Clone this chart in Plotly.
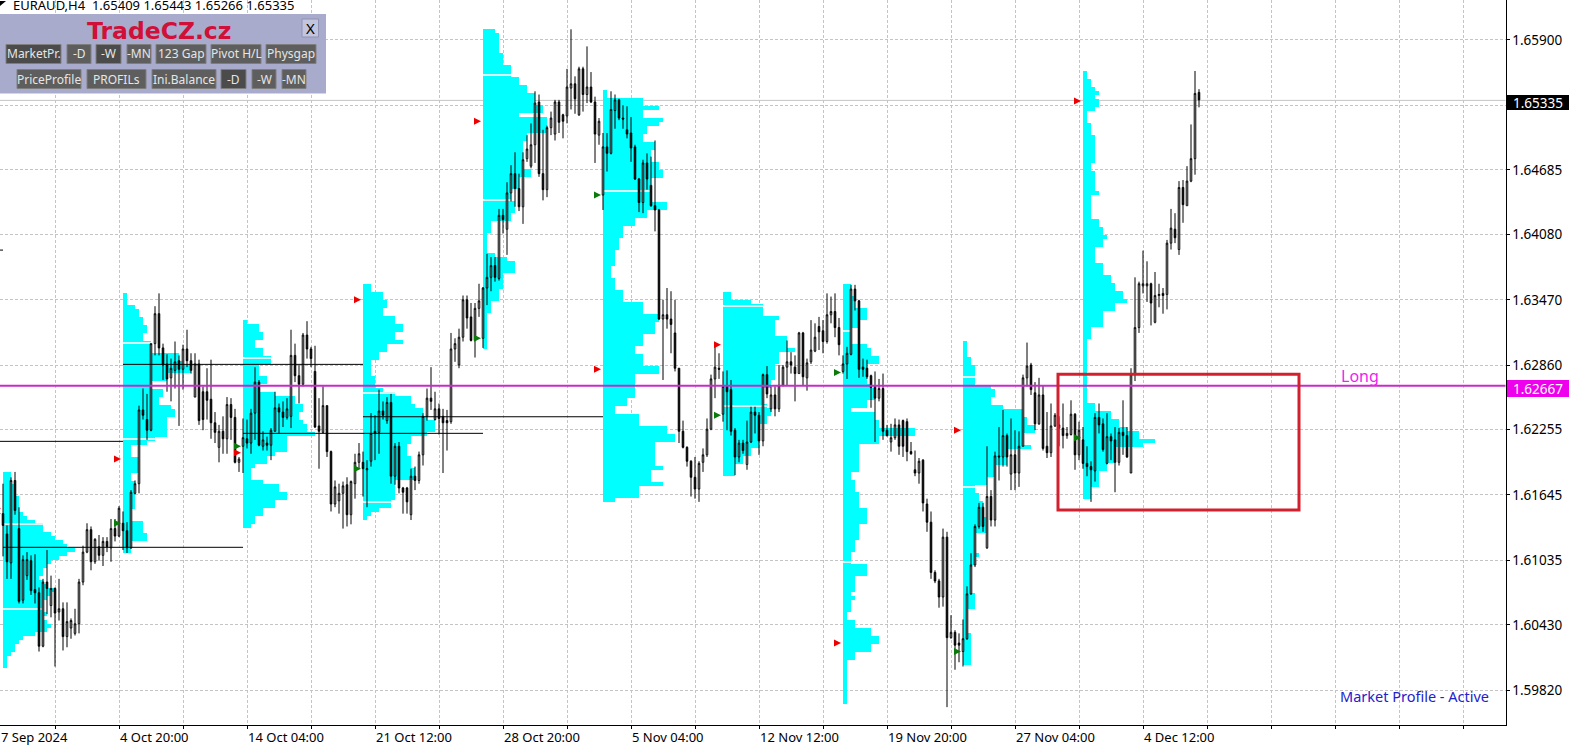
import plotly.graph_objects as go

# ---------- candles: prices in units of 0.0001 ----------
high_e4 = [16175,16136,16181,16186,16153,16108,16111,16108,16109,16078,
16086,16113,16089,16078,16086,16064,16064,16049,16058,16086,
16117,16138,16135,16124,16127,16125,16125,16142,16142,16154,
16149,16139,16169,16178,16248,16264,16259,16306,16341,16353,
16306,16296,16292,16308,16295,16305,16319,16297,16297,16291,
16266,16283,16291,16242,16230,16238,16256,16255,16245,16200,
16236,16235,16245,16284,16272,16224,16219,16227,16261,16250,
16252,16255,16319,16306,16286,16316,16327,16303,16304,16255,
16266,16248,16206,16178,16175,16177,16181,16178,16203,16213,
16205,16197,16241,16239,16263,16252,16256,16259,16213,16214,
16172,16172,16189,16191,16205,16241,16264,16284,16261,16250,
16245,16244,16316,16311,16320,16351,16351,16344,16344,16362,
16359,16390,16387,16387,16432,16432,16457,16473,16485,16465,
16485,16501,16512,16542,16539,16506,16510,16523,16534,16534,
16521,16563,16600,16556,16565,16565,16584,16560,16537,16517,
16503,16503,16542,16539,16535,16529,16528,16518,16492,16461,
16478,16484,16481,16496,16432,16347,16358,16355,16347,16283,
16234,16210,16197,16200,16196,16208,16236,16277,16305,16297,
16280,16281,16272,16227,16216,16216,16234,16247,16247,16242,
16278,16285,16266,16266,16286,16286,16309,16298,16295,16317,
16317,16292,16328,16325,16331,16328,16353,16350,16353,16330,
16295,16303,16361,16361,16347,16292,16291,16277,16280,16273,
16278,16230,16231,16236,16235,16235,16236,16214,16206,16199,
16198,16161,16149,16094,16086,16133,16130,16052,16038,16035,
16048,16079,16110,16137,16157,16157,16210,16169,16205,16228,
16244,16222,16236,16225,16224,16277,16307,16288,16270,16274,
16267,16242,16250,16241,16238,16250,16228,16253,16241,16233,
16228,16210,16196,16241,16250,16236,16241,16222,16228,16227,
16253,16228,16283,16368,16364,16393,16383,16363,16373,16362,
16358,16403,16432,16428,16458,16459,16472,16511,16561,16544]

body_top_e4 = [16147,16128,16178,16178,16133,16104,16104,16103,16076,16073,
16083,16083,16077,16077,16058,16058,16046,16047,16044,16083,
16111,16132,16132,16123,16116,16121,16121,16133,16133,16152,
16138,16131,16167,16175,16244,16244,16235,16306,16334,16334,
16302,16287,16283,16289,16290,16301,16301,16290,16287,16287,
16261,16261,16254,16232,16224,16224,16249,16249,16237,16198,
16218,16217,16241,16270,16270,16216,16213,16225,16246,16246,
16242,16245,16295,16295,16276,16314,16314,16301,16280,16229,
16248,16248,16205,16172,16166,16173,16174,16177,16195,16203,
16195,16189,16222,16224,16243,16243,16251,16251,16210,16210,
16171,16171,16182,16182,16202,16238,16255,16255,16245,16245,
16238,16234,16301,16306,16312,16347,16347,16331,16339,16346,
16358,16368,16379,16379,16426,16426,16447,16465,16465,16451,
16478,16488,16492,16531,16532,16465,16508,16517,16532,16532,
16520,16546,16549,16549,16563,16563,16546,16546,16532,16514,
16490,16490,16525,16534,16534,16517,16506,16503,16490,16460,
16475,16475,16454,16435,16431,16333,16333,16329,16316,16283,
16224,16209,16196,16181,16194,16202,16226,16273,16284,16283,
16266,16266,16263,16225,16213,16213,16214,16242,16242,16239,
16277,16277,16258,16258,16267,16284,16289,16289,16284,16316,
16316,16288,16300,16312,16322,16318,16333,16336,16336,16321,
16287,16297,16357,16357,16346,16284,16283,16276,16266,16264,
16264,16225,16218,16230,16230,16234,16233,16205,16188,16196,
16197,16156,16139,16092,16084,16125,16125,16036,16036,16026,
16030,16072,16099,16135,16153,16153,16163,16163,16201,16201,
16220,16220,16202,16202,16210,16274,16285,16286,16260,16258,
16258,16210,16229,16239,16230,16227,16222,16240,16240,16225,
16216,16194,16191,16237,16237,16231,16219,16219,16216,16223,
16223,16220,16277,16321,16362,16362,16362,16362,16351,16352,
16353,16400,16414,16413,16452,16452,16458,16479,16540,16541]

body_bottom_e4 = [16136,16102,16101,16150,16065,16066,16089,16075,16073,16023,
16023,16077,16061,16054,16055,16032,16032,16040,16035,16044,
16083,16111,16102,16102,16108,16108,16116,16115,16126,16126,
16131,16115,16115,16166,16175,16239,16225,16225,16306,16302,
16286,16273,16274,16281,16282,16282,16290,16281,16256,16234,
16235,16253,16232,16223,16209,16217,16217,16237,16195,16195,
16210,16213,16213,16241,16211,16210,16211,16211,16224,16242,
16237,16237,16238,16276,16268,16268,16301,16292,16228,16224,
16223,16205,16156,16156,16159,16166,16146,16146,16175,16195,
16189,16188,16196,16222,16223,16239,16234,16182,16182,16171,
16167,16158,16146,16178,16178,16202,16238,16252,16235,16236,
16232,16232,16233,16301,16286,16312,16330,16309,16309,16339,
16311,16358,16368,16368,16367,16422,16413,16447,16451,16434,
16434,16479,16472,16492,16465,16450,16450,16508,16502,16513,
16514,16519,16545,16535,16520,16539,16539,16532,16502,16501,
16445,16484,16484,16524,16517,16516,16502,16489,16460,16438,
16438,16460,16435,16431,16329,16329,16329,16324,16283,16224,
16209,16196,16181,16170,16170,16195,16202,16226,16273,16282,
16240,16261,16224,16200,16200,16206,16193,16214,16239,16215,
16215,16259,16245,16245,16245,16267,16284,16286,16278,16278,
16275,16274,16289,16299,16317,16308,16308,16333,16321,16305,
16280,16287,16296,16346,16282,16282,16275,16265,16255,16255,
16224,16220,16214,16218,16210,16210,16205,16203,16185,16185,
16157,16139,16092,16084,16069,16069,16031,16031,16024,16024,
16018,16030,16072,16099,16135,16135,16115,16141,16141,16200,
16200,16200,16184,16185,16185,16210,16274,16263,16231,16231,
16208,16204,16204,16229,16227,16220,16220,16221,16202,16202,
16194,16191,16188,16187,16230,16207,16194,16215,16195,16195,
16220,16200,16185,16277,16321,16360,16360,16344,16326,16351,
16351,16352,16400,16405,16394,16436,16435,16458,16479,16534]

low_e4 = [16107,16086,16086,16146,16063,16063,16085,16071,16063,16018,
16022,16053,16050,16004,16047,16019,16022,16030,16033,16035,
16080,16110,16094,16100,16103,16098,16111,16102,16121,16125,
16113,16110,16114,16165,16166,16235,16216,16224,16295,16295,
16272,16261,16252,16264,16229,16263,16284,16278,16256,16230,
16225,16235,16217,16213,16195,16203,16203,16216,16194,16186,
16185,16208,16203,16216,16210,16206,16206,16197,16224,16222,
16228,16235,16227,16270,16250,16266,16292,16284,16227,16189,
16222,16200,16149,16153,16147,16133,16135,16137,16161,16189,
16163,16153,16191,16197,16203,16235,16231,16175,16174,16166,
16147,16147,16141,16169,16175,16192,16234,16244,16234,16221,
16185,16206,16231,16289,16283,16308,16320,16308,16293,16331,
16302,16342,16355,16364,16365,16409,16389,16439,16434,16430,
16418,16476,16470,16475,16462,16440,16443,16501,16496,16503,
16498,16512,16525,16521,16519,16523,16531,16531,16475,16492,
16431,16467,16483,16507,16515,16507,16498,16476,16459,16429,
16428,16450,16434,16411,16328,16272,16320,16297,16280,16213,
16208,16191,16163,16161,16158,16186,16200,16225,16255,16273,
16233,16225,16220,16183,16195,16203,16188,16213,16222,16202,
16210,16255,16242,16238,16242,16266,16267,16278,16252,16278,
16267,16262,16287,16298,16300,16297,16306,16325,16312,16295,
16278,16273,16295,16337,16274,16275,16273,16246,16214,16252,
16216,16219,16205,16216,16202,16200,16196,16202,16182,16175,
16149,16130,16086,16082,16059,16060,15966,16030,16001,16008,
16004,16029,16071,16097,16133,16130,16114,16135,16135,16178,
16191,16191,16169,16169,16172,16210,16266,16258,16225,16230,
16206,16199,16200,16228,16210,16208,16217,16220,16188,16197,
16189,16182,16158,16177,16222,16205,16193,16197,16167,16192,
16202,16199,16185,16271,16316,16353,16345,16323,16325,16340,
16334,16338,16394,16400,16389,16419,16435,16457,16464,16527]

direction = ("BBWBBWWBBB" "WBWBWBWWWW" "WWBWBWBWBW" "BBWWWBBWWB" "BBWWBWBBWB"
             "BBBBWBWBBW" "WBWWBWBWWB" "BWWBBWBBBB" "WBBWWWBWWW" "BWWBWBWBWB"
             "BBWBWWWBWB" "BBWWWWBBWW" "WWWBWBWWBB" "WWWWBBWWWB" "BWWBWBWBBW"
             "WBWWBBBBBB" "WBBBBWBBBB" "BBBBWWWWWB" "WBBBWBWWBB" "WBWBWWWBBW"
             "BWWWBBWWBB" "WWWBBBBBBW" "BBWWBBBBBW" "BBBBBWBWBB" "WWWWWBWBWB"
             "WBWBWWWBBW" "BBWWWBWWBW" "BBBWBBWBBW" "BBWWWWWBWW" "BWWBWBWWWB")

# ---------- market profiles: TPO counts per price bin, top to bottom ----------
profile_bin = 0.000374
profile_tops = [1.6186, 1.6353, 1.6328, 1.6362, 1.6600, 1.6543, 1.6354, 1.6362, 1.6308, 1.6561]
profile_start = [0, 30, 60, 90, 120, 150, 180, 210, 240, 270]

p0 = [2,2,2,3,3,3,4,4,4,4,5,6,8,10,10,12,13,15,16,18,16,14,12,11,10,10,9,10,11,13,12,11,10,10,10,11,10,11,12,11,8,5,4,3,3,2,1,1,1]
p1 = [1,1,1,3,4,4,5,5,6,6,5,5,7,7,7,14,14,15,17,17,11,11,7,7,10,10,9,9,12,13,13,11,11,11,11,11,8,6,2,2,2,4,4,4,4,2,2,3,3,3,3,3,3,3,2,2,2,5,5,5,6,6,2,2,2]
p2 = [1,4,4,5,5,3,3,5,5,7,7,4,4,4,6,6,4,4,8,13,13,15,15,14,14,15,16,16,18,11,11,11,11,8,6,6,3,2,2,2,5,9,9,11,11,8,8,5,5,3,3,2]
p3 = [2,2,5,5,6,6,5,5,8,8,10,10,8,8,10,6,6,4,4,2,2,2,2,3,3,3,5,8,12,12,13,15,15,16,18,18,18,16,12,12,11,11,11,12,12,12,13,13,13,8,8,8,8,8,7,7,4,2,1]
p4 = [3,4,4,4,4,4,5,5,5,7,7,7,9,9,11,11,13,13,13,15,15,9,16,16,16,16,11,11,10,10,10,10,10,10,10,12,12,9,9,9,7,7,7,8,8,8,7,7,2,2,2,1,1,1,1,1,3,6,8,8,8,5,5,5,5,4,4,4,2,2,2,1,1,1,1,1,1,1,1,1]
p5 = [1,1,10,10,14,10,10,15,14,11,11,10,10,13,13,12,12,12,14,14,15,15,12,12,12,12,12,12,16,16,11,11,8,8,5,5,5,4,4,4,3,3,3,3,2,2,2,3,3,3,5,5,5,10,10,10,14,14,13,13,13,10,10,10,8,8,10,10,10,14,14,8,8,8,8,8,8,6,6,3,3,9,9,9,16,16,18,18,13,13,13,13,13,13,15,12,12,12,15,9,9,9,3]
p6 = [2,2,7,10,10,10,14,13,13,13,13,16,16,16,18,14,14,14,13,13,13,13,12,12,10,10,10,10,11,12,12,11,11,9,9,9,9,9,9,7,7,5,5,3,3,3]
p7 = [2,2,2,3,3,3,6,6,6,4,4,2,2,2,2,6,7,7,9,9,6,6,6,6,6,7,8,8,8,6,6,2,8,8,9,9,18,18,9,9,4,4,4,4,4,4,4,2,2,3,3,3,4,4,4,4,6,6,6,6,4,4,4,4,3,3,3,2,2,2,6,6,6,3,3,3,3,2,3,2,2,2,1,1,3,3,7,7,9,9,7,7,3,3,1,1,1,1,1,1,1,1,1,1,1]
p8 = [1,1,1,1,2,2,3,3,3,3,3,7,8,8,7,7,10,15,15,16,16,18,18,15,15,15,17,11,11,11,11,8,8,8,6,6,3,3,4,4,5,5,5,5,6,6,6,6,3,3,3,3,3,4,3,3,2,2,2,2,2,2,2,3,3,3,3,1,1,1,1,1,1,2,2,2,2,2,2,2,2]
p9 = [1,1,2,2,3,4,3,4,4,3,1,1,1,2,2,2,3,3,3,3,3,3,3,2,2,3,3,3,3,3,4,2,2,2,2,2,2,4,4,5,5,6,5,5,3,3,3,3,5,5,5,7,7,8,8,10,10,11,8,8,5,5,5,5,2,2,2,1,1,1,1,1,1,1,1,1,1,1,1,1,1,1,1,3,3,7,7,9,9,11,14,14,18,15,8,8,8,8,6,6,4,4,4,4,2,2,2]
profiles = [p0, p1, p2, p3, p4, p5, p6, p7, p8, p9]

# pale value-area levels inside each profile
va_levels = [[1.6137, 1.6058], [1.6307, 1.6217], [1.6293], [1.6260, 1.6158], [1.6557, 1.6440],
             [1.6449], [1.6341, 1.6248], [1.6318, 1.6102], [1.6275, 1.6172], []]

# arrows
arrow_x = [-0.5, 29.5, 59.5, 89.5, 119.5, 149.5, 179.5, 209.5, 239.5, 269.5]
red_arrows = [1.6152, 1.6198, 1.6204, 1.6347, 1.6514, 1.6282, 1.6305, 1.6026, 1.6225, 1.6533]
green_arrows = [1.6147, 1.6138, 1.6210, 1.6189, 1.6311, 1.6445, 1.6239, 1.6279, 1.6018, 1.6218]

# black level lines
level_prices = [1.62146, 1.61155, 1.62866, 1.62376, 1.62221, 1.63935]
level_from = [-0.75, 0, 30, 90, 60, -0.75]
level_to = [30, 60, 90, 150, 120, 0]

# axes
y_ticks = [1.65900, 1.65290, 1.64685, 1.64080, 1.63470, 1.62860, 1.62255, 1.61645, 1.61035, 1.60430, 1.59820]
y_text = ["1.65900", " ", "1.64685", "1.64080", "1.63470", "1.62860", "1.62255", "1.61645", "1.61035", "1.60430", "1.59820"]
x_grid = list(range(13, 376, 16))
x_label_pos = [29, 61, 93, 125, 157, 189, 221, 253, 285]
x_labels = ["4 Oct 20:00", "14 Oct 04:00", "21 Oct 12:00", "28 Oct 20:00", "5 Nov 04:00",
            "12 Nov 12:00", "19 Nov 20:00", "27 Nov 04:00", "4 Dec 12:00"]

last_price = 1.65335
long_price = 1.62667
box_x = [263.75, 324.0]
box_y = [1.61503, 1.62773]

# panel buttons: label, left, right, row top, pressed
row1 = [("MarketPr.", 6, 61, 1), ("-D", 67, 91, 0), ("-W", 96, 121, 1), ("-MN", 127, 151, 0),
        ("123 Gap", 156, 206, 0), ("Pivot H/L", 211, 261, 0), ("Physgap", 266, 316, 0)]
row2 = [("PriceProfile", 17, 81, 0), ("PROFILs", 87, 146, 0), ("Ini.Balance", 152, 216, 0),
        ("-D", 221, 246, 1), ("-W", 252, 276, 0), ("-MN", 282, 306, 0)]

# ---------- layout helpers ----------
W, H = 1578, 752
PW, PH = 1505.5, 725
def xp(px): return px / W
def yp(py): return 1 - py / H

assert all(len(a) == 300 for a in (high_e4, body_top_e4, body_bottom_e4, low_e4, direction))

xs = list(range(300))
opens = [(b if d == "W" else t) / 10000 for t, b, d in zip(body_top_e4, body_bottom_e4, direction)]
closes = [(t if d == "W" else b) / 10000 for t, b, d in zip(body_top_e4, body_bottom_e4, direction)]
highs = [v / 10000 for v in high_e4]
lows = [v / 10000 for v in low_e4]

fig = go.Figure()

for top, start, counts, vas in zip(profile_tops, profile_start, profiles, va_levels):
    levels = [top - (k + 0.5) * profile_bin for k in range(len(counts))]
    fig.add_trace(go.Bar(orientation="h", y=levels, x=counts, base=start, width=profile_bin,
                         marker=dict(color="#00ffff", line=dict(width=0)), showlegend=False,
                         hoverinfo="skip"))
    if vas:
        lens = [counts[min(len(counts) - 1, max(0, int((top - v) / profile_bin)))] for v in vas]
        fig.add_trace(go.Bar(orientation="h", y=vas, x=lens, base=start, width=0.00011,
                             marker=dict(color="#d8f4f4", line=dict(width=0)), showlegend=False,
                             hoverinfo="skip"))

fig.add_trace(go.Candlestick(x=xs, open=opens, high=highs, low=lows, close=closes,
                             increasing=dict(line=dict(color="#000000", width=1), fillcolor="#ffffff"),
                             decreasing=dict(line=dict(color="#000000", width=1), fillcolor="#000000"),
                             whiskerwidth=0, showlegend=False, hoverinfo="skip"))

for p, a, b in zip(level_prices, level_from, level_to):
    fig.add_trace(go.Scatter(x=[a, b], y=[p, p], mode="lines", line=dict(color="#000000", width=1),
                             showlegend=False, hoverinfo="skip"))

fig.add_trace(go.Scatter(x=arrow_x, y=red_arrows, mode="markers", cliponaxis=False,
                         marker=dict(symbol="arrow-right", size=7, color="#ee0000", line=dict(width=0)),
                         showlegend=False, hoverinfo="skip"))
fig.add_trace(go.Scatter(x=arrow_x, y=green_arrows, mode="markers", cliponaxis=False,
                         marker=dict(symbol="arrow-right", size=7, color="#0a7a0a", line=dict(width=0)),
                         showlegend=False, hoverinfo="skip"))

shapes = [
    dict(type="line", xref="x domain", yref="y", x0=0, x1=1, y0=last_price, y1=last_price,
         line=dict(color="#c4c4c4", width=1), layer="below"),
    dict(type="line", xref="x domain", yref="y", x0=0, x1=1, y0=long_price, y1=long_price,
         line=dict(color="#c92bc9", width=2), layer="above"),
    dict(type="rect", xref="x", yref="y", x0=box_x[0], x1=box_x[1], y0=box_y[0], y1=box_y[1],
         line=dict(color="#d3202e", width=3), fillcolor="rgba(0,0,0,0)", layer="above"),
    # price tags
    dict(type="rect", xref="paper", yref="paper", x0=xp(1507), x1=xp(1569), y0=yp(110), y1=yp(95),
         fillcolor="#000000", line=dict(width=0), layer="above"),
    dict(type="rect", xref="paper", yref="paper", x0=xp(1507), x1=xp(1569), y0=yp(397), y1=yp(380),
         fillcolor="#ee00ee", line=dict(width=0), layer="above"),
    # panel
    dict(type="rect", xref="paper", yref="paper", x0=0, x1=xp(326), y0=yp(93.5), y1=yp(14),
         fillcolor="#a9abcc", line=dict(width=0), layer="above"),
    dict(type="rect", xref="paper", yref="paper", x0=xp(302), x1=xp(318.5), y0=yp(37), y1=yp(19),
         fillcolor="#c3c5de", line=dict(color="#8f91b5", width=1), layer="above"),
    # header triangle
    dict(type="path", xref="paper", yref="paper",
         path=f"M 0 {yp(1)} L {xp(6)} {yp(1)} L 0 {yp(6)} Z", fillcolor="#000000",
         line=dict(width=0), layer="above"),
]

annotations = []
def label(text, px, py, size, color, anchor="left", family="Noto Sans", bold=False):
    annotations.append(dict(xref="paper", yref="paper", x=xp(px), y=yp(py), text=f"<b>{text}</b>" if bold else text,
                            showarrow=False, xanchor=anchor, yanchor="middle", borderpad=0,
                            font=dict(family=family, size=size, color=color)))

for row, top, bottom in ((row1, 44.5, 63.5), (row2, 69.5, 88.5)):
    for text, x0, x1, pressed in row:
        shapes.append(dict(type="rect", xref="paper", yref="paper", x0=xp(x0), x1=xp(x1), y0=yp(bottom), y1=yp(top),
                           fillcolor="#4b4b4b" if pressed else "#5e5e5e",
                           line=dict(color="#7e7e7e", width=1), layer="above"))
        label(text, (x0 + x1) / 2, (top + bottom) / 2, 12, "#e6e6e6", anchor="center")

label("EURAUD,H4\u00a0\u00a01.65409 1.65443 1.65266 1.65335", 12, 5, 13, "#000000")
label("TradeCZ.cz", 159, 31, 23.5, "#d01038", anchor="center", family="DejaVu Sans", bold=True)
label("X", 310, 28, 15, "#000000", anchor="center")
label("1.65335", 1538, 102.5, 13.5, "#ffffff", anchor="center")
label("1.62667", 1538, 389, 13.5, "#ffffff", anchor="center")
label("Long", 1340, 376, 16, "#ee22ee")
label("Market Profile - Active", 1339, 696, 14.5, "#2222cc")
label("7 Sep 2024", 0, 737, 13, "#000000")

for pos, text in zip(x_label_pos, x_labels):
    annotations.append(dict(xref="x", yref="paper", x=pos, y=yp(737), text=text, showarrow=False,
                            xanchor="left", yanchor="middle", borderpad=0,
                            font=dict(family="Noto Sans", size=13, color="#000000")))

fig.update_layout(
    width=W, height=H, margin=dict(l=0, r=0, t=0, b=0, pad=0),
    paper_bgcolor="#ffffff", plot_bgcolor="#ffffff",
    barmode="overlay", bargap=0, boxgap=0.45, showlegend=False,
    shapes=shapes, annotations=annotations,
    xaxis=dict(domain=[0, PW / W], range=[-0.75, 375.625], rangeslider=dict(visible=False),
               tickmode="array", tickvals=x_grid, showticklabels=False,
               showgrid=True, gridcolor="#c4c4c4", griddash="3px,2px", gridwidth=1,
               ticks="outside", ticklen=3, tickcolor="#000000",
               showline=True, linecolor="#000000", linewidth=1, zeroline=False),
    yaxis=dict(domain=[1 - PH / H, 1], range=[1.59493, 1.66274], side="right",
               tickmode="array", tickvals=y_ticks, ticktext=y_text,
               showgrid=True, gridcolor="#c4c4c4", griddash="3px,2px", gridwidth=1,
               ticks="outside", ticklen=3, tickcolor="#000000",
               tickfont=dict(family="Noto Sans", size=13.5, color="#000000"),
               showline=True, linecolor="#000000", linewidth=1, zeroline=False),
)

fig.write_html("out.html", config=dict(displayModeBar=False),
               post_script="document.body.style.margin='0';document.body.style.overflow='hidden';")
